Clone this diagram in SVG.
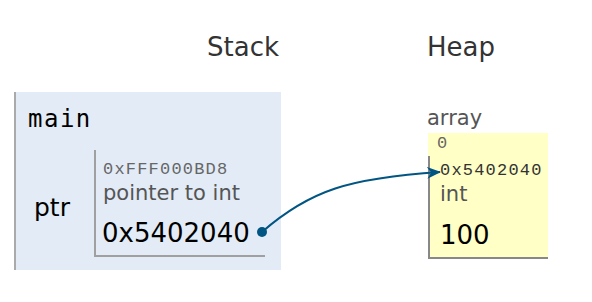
<svg xmlns="http://www.w3.org/2000/svg" width="592" height="302" viewBox="0 0 592 302">
  <style>
    .sans { font-family: "DejaVu Sans", Verdana, sans-serif; }
    .mono { font-family: "Liberation Mono", "Courier New", monospace; }
    .hdr { font-size: 26px; fill: #333333; }
    .addr { font-size: 17px; letter-spacing: 1.2px; fill: #666666; }
    .type { font-size: 21px; fill: #555555; }
    .val { font-size: 26px; fill: #000000; }
    .frame-bg { fill: #e2ebf6; }
    .heap-bg { fill: #ffffc6; }
    .edge { stroke: #a0a0a0; stroke-width: 2; fill: none; }
    .heap-edge { stroke: #888888; stroke-width: 2; fill: none; }
    .ptr { stroke: #005583; stroke-width: 2; fill: none; }
  </style>
  <defs>
    <marker id="arrowhead" viewBox="0 0 14 12" refX="13" refY="6" markerWidth="14" markerHeight="12" markerUnits="userSpaceOnUse" orient="auto">
      <path d="M0,0 L14,6 L0,12 L4,6 Z" fill="#005583"/>
    </marker>
  </defs>
  <rect width="592" height="302" fill="#ffffff"/>

  <!-- column headings -->
  <text class="sans hdr" x="207" y="56">Stack</text>
  <text class="sans hdr" x="427" y="56" font-size="25">Heap</text>

  <!-- stack frame: main -->
  <g id="frame-main">
    <rect class="frame-bg" x="14" y="92" width="267" height="178"/>
    <line x1="15" y1="92" x2="15" y2="270" stroke="#aaaaaa" stroke-width="2"/>
    <text x="28" y="127" font-family="'DejaVu Sans Mono', monospace" font-size="24" letter-spacing="1.5" fill="#000000">main</text>
  </g>

  <!-- local variable ptr -->
  <g id="var-ptr">
    <text class="sans" x="34" y="216" font-size="25" fill="#000000">ptr</text>
    <path class="edge" d="M95,150 V256 H265"/>
    <text class="mono addr" x="103" y="174">0xFFF000BD8</text>
    <text class="sans type" x="103" y="200">pointer to int</text>
    <text class="sans val" x="102" y="242">0x5402040</text>
  </g>

  <!-- heap object: array -->
  <g id="heap-array">
    <text class="sans type" x="427" y="125">array</text>
    <rect class="heap-bg" x="428" y="133" width="120" height="125"/>
    <path class="heap-edge" d="M429,156 V258 H548"/>
    <text class="mono addr" x="437" y="148">0</text>
    <text class="mono addr" x="440" y="175" style="fill:#333333">0x5402040</text>
    <text class="sans type" x="440" y="201">int</text>
    <text class="sans val" x="440" y="244">100</text>
  </g>

  <!-- pointer connectors -->
  <g id="connectors">
    <path class="ptr" d="M262,232 C310,190 350,178 440,172" marker-end="url(#arrowhead)"/>
    <circle cx="262" cy="232" r="5" fill="#005583"/>
  </g>
</svg>
